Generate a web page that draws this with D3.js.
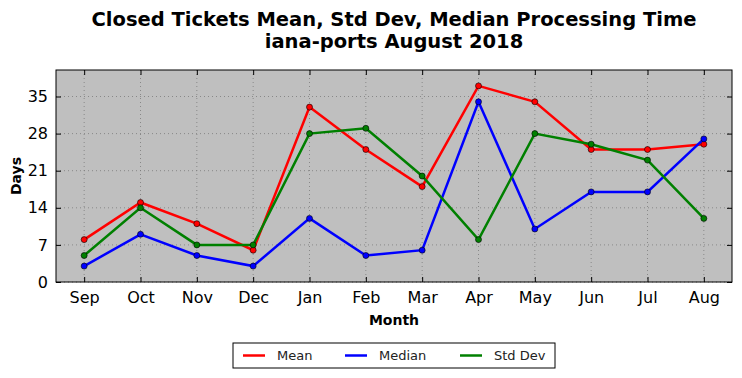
<!DOCTYPE html>
<meta charset="utf-8">
<style>
body { margin: 0; background: #fff; }
text { font-family: "DejaVu Sans", sans-serif; }
.grid line { stroke: #7a7a7a; stroke-dasharray: 1,3; stroke-width: 0.8; }
</style>
<body>
<svg id="chart" width="742" height="378"></svg>
<script src="https://d3js.org/d3.v7.min.js"></script>
<script>

var months = ["Sep", "Oct", "Nov", "Dec", "Jan", "Feb", "Mar", "Apr", "May", "Jun", "Jul", "Aug"];
var meanDays   = [8, 15, 11, 6, 33, 25, 18, 37, 34, 25, 25, 26];
var medianDays = [3, 9, 5, 3, 12, 5, 6, 34, 10, 17, 17, 27];
var stdDays    = [5, 14, 7, 7, 28, 29, 20, 8, 28, 26, 23, 12];
var yTicks = [0, 7, 14, 21, 28, 35];

var series = [
  {name: "Mean", color: "#ff0000", values: meanDays},
  {name: "Median", color: "#0000ff", values: medianDays},
  {name: "Std Dev", color: "#008000", values: stdDays}
];

var margin = {top: 70, right: 10, bottom: 96, left: 56},
    width = 742 - margin.left - margin.right,
    height = 378 - margin.top - margin.bottom;

var svg = d3.select("#chart");

var x = d3.scaleLinear().domain([-0.5, months.length - 0.5]).range([0, width]);
var y = d3.scaleLinear().domain([0, 40]).range([height, 0]);

var g = svg.append("g").attr("transform", "translate(" + margin.left + "," + margin.top + ")");

g.append("rect")
  .attr("width", width)
  .attr("height", height)
  .attr("fill", "#bfbfbf");

// grid
var grid = g.append("g").attr("class", "grid");
grid.selectAll(".gx").data(months).enter().append("line")
  .attr("x1", function(d, i) { return x(i); })
  .attr("x2", function(d, i) { return x(i); })
  .attr("y1", 0).attr("y2", height);
grid.selectAll(".gy").data(yTicks).enter().append("line")
  .attr("x1", 0).attr("x2", width)
  .attr("y1", function(d) { return y(d); })
  .attr("y2", function(d) { return y(d); });

// axes, ticks pointing inward like matplotlib classic
var xAxis = d3.axisBottom(x).tickValues(d3.range(months.length))
  .tickFormat(function(i) { return months[i]; })
  .tickSizeInner(-5).tickSizeOuter(0).tickPadding(10);
var yAxis = d3.axisLeft(y).tickValues(yTicks).tickSizeInner(-5).tickSizeOuter(0).tickPadding(8);

var gx = g.append("g").attr("transform", "translate(0," + height + ")").call(xAxis);
var gy = g.append("g").call(yAxis);
g.append("g").call(d3.axisTop(x).tickValues(d3.range(months.length)).tickFormat("").tickSizeInner(-5).tickSizeOuter(0));
g.append("g").attr("transform", "translate(" + width + ",0)")
  .call(d3.axisRight(y).tickValues(yTicks).tickFormat("").tickSizeInner(-5).tickSizeOuter(0));

g.selectAll(".domain").remove();
g.selectAll(".tick line").attr("stroke", "#000");
gx.selectAll("text").attr("font-size", 16).attr("fill", "#000");
gy.selectAll("text").attr("font-size", 16).attr("fill", "#000");

var line = d3.line()
  .x(function(d, i) { return x(i); })
  .y(function(d) { return y(d); });

series.forEach(function(s) {
  g.append("path")
    .datum(s.values)
    .attr("fill", "none")
    .attr("stroke", s.color)
    .attr("stroke-width", 2.5)
    .attr("d", line);
  g.selectAll(null).data(s.values).enter().append("circle")
    .attr("cx", function(d, i) { return x(i); })
    .attr("cy", function(d) { return y(d); })
    .attr("r", 3)
    .attr("fill", s.color)
    .attr("stroke", "#000")
    .attr("stroke-width", 0.6);
});

g.append("rect")
  .attr("width", width)
  .attr("height", height)
  .attr("fill", "none")
  .attr("stroke", "#000")
  .attr("stroke-width", 1);

// titles
svg.append("text")
  .attr("x", margin.left + width / 2).attr("y", 26)
  .attr("text-anchor", "middle").attr("font-size", 19.5).attr("font-weight", "bold")
  .text("Closed Tickets Mean, Std Dev, Median Processing Time");
svg.append("text")
  .attr("x", margin.left + width / 2).attr("y", 48)
  .attr("text-anchor", "middle").attr("font-size", 19.5).attr("font-weight", "bold")
  .text("iana-ports August 2018");

svg.append("text")
  .attr("x", margin.left + width / 2).attr("y", 325)
  .attr("text-anchor", "middle").attr("font-size", 14).attr("font-weight", "bold")
  .text("Month");
svg.append("text")
  .attr("transform", "translate(21," + (margin.top + height / 2) + ") rotate(-90)")
  .attr("text-anchor", "middle").attr("font-size", 14).attr("font-weight", "bold")
  .text("Days");

// legend
var legend = svg.append("g").attr("transform", "translate(233,343)");
legend.append("rect")
  .attr("width", 322).attr("height", 25)
  .attr("fill", "#fff").attr("stroke", "#000").attr("stroke-width", 1);
var legendX = [10, 112, 227];
series.forEach(function(s, i) {
  legend.append("line")
    .attr("x1", legendX[i]).attr("x2", legendX[i] + 22)
    .attr("y1", 12.5).attr("y2", 12.5)
    .attr("stroke", s.color).attr("stroke-width", 2.5);
  legend.append("text")
    .attr("x", legendX[i] + 34).attr("y", 17)
    .attr("font-size", 13).attr("fill", "#222")
    .text(s.name);
});
</script>
</body>
